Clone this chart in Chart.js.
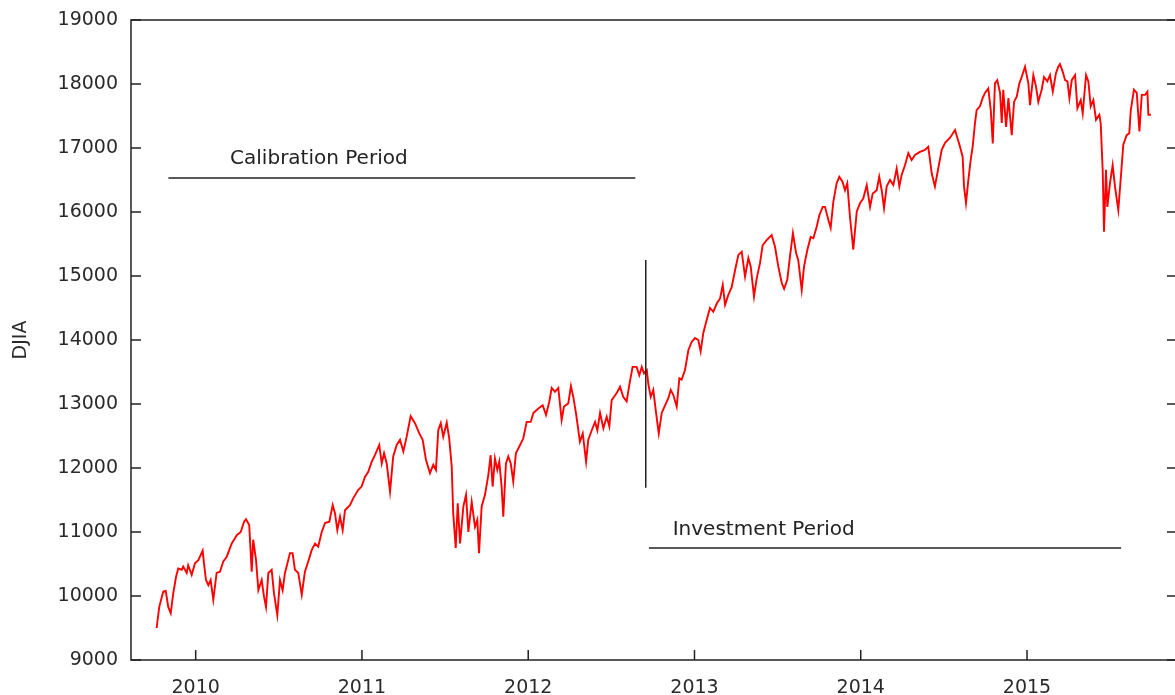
<!DOCTYPE html>
<html>
<head>
<meta charset="utf-8">
<script src="https://cdn.jsdelivr.net/npm/chart.js@4.4.1/dist/chart.umd.min.js"></script>
<style>
  html, body { margin: 0; padding: 0; background: #ffffff; overflow: hidden; }
  #wrap { width: 1190px; height: 695px; }
</style>
</head>
<body>
<div id="wrap"><canvas id="c" width="1190" height="695"></canvas></div>
<script>
// ---- data (x = fractional year on the chart's time axis, y = DJIA close) ----
const dates = [
  2009.765,2009.781,2009.805,2009.820,2009.835,2009.850,2009.865,2009.882,2009.895,2009.916,
  2009.925,2009.946,2009.955,2009.976,2009.996,2010.016,2010.042,2010.050,2010.062,2010.076,
  2010.090,2010.106,2010.126,2010.146,2010.166,2010.186,2010.217,2010.247,2010.271,2010.291,
  2010.303,2010.322,2010.337,2010.346,2010.363,2010.377,2010.397,2010.411,2010.423,2010.437,
  2010.457,2010.471,2010.491,2010.507,2010.523,2010.537,2010.547,2010.567,2010.583,2010.597,
  2010.617,2010.638,2010.657,2010.677,2010.698,2010.718,2010.737,2010.758,2010.778,2010.804,
  2010.824,2010.838,2010.852,2010.868,2010.884,2010.898,2010.928,2010.948,2010.978,2010.998,
  2011.018,2011.038,2011.059,2011.078,2011.104,
  2011.119,2011.133,2011.149,2011.169,2011.188,2011.209,2011.229,2011.249,2011.269,2011.293,
  2011.319,2011.345,2011.365,2011.385,2011.409,2011.429,2011.445,2011.459,2011.474,2011.489,
  2011.510,2011.525,2011.540,2011.549,2011.564,2011.576,2011.590,2011.610,2011.626,2011.640,
  2011.660,2011.680,2011.694,2011.704,2011.720,2011.740,2011.760,2011.774,2011.786,2011.800,
  2011.814,2011.826,2011.840,2011.850,2011.866,2011.880,2011.895,2011.910,2011.926,2011.951,
  2011.970,2011.991,
  2012.015,2012.031,2012.061,2012.087,2012.107,2012.127,2012.141,2012.161,2012.181,2012.201,
  2012.215,2012.241,2012.257,2012.271,2012.287,2012.311,2012.328,2012.348,2012.361,2012.382,
  2012.402,2012.416,2012.432,2012.452,2012.472,2012.488,2012.502,2012.532,2012.552,2012.572,
  2012.592,2012.608,2012.628,2012.652,2012.668,2012.683,2012.696,2012.713,2012.722,2012.737,
  2012.752,2012.769,2012.785,2012.803,2012.823,2012.843,2012.857,2012.873,2012.893,2012.909,
  2012.923,2012.943,2012.963,2012.983,
  2013.003,2013.023,2013.037,2013.053,2013.073,2013.093,2013.113,2013.134,2013.154,2013.170,
  2013.184,2013.203,2013.224,2013.244,2013.264,2013.284,2013.304,2013.324,2013.338,2013.358,
  2013.374,2013.394,2013.410,2013.434,2013.464,2013.484,2013.504,2013.525,2013.539,2013.558,
  2013.574,2013.592,2013.611,2013.624,2013.645,2013.659,2013.679,2013.699,2013.715,2013.735,
  2013.751,2013.771,2013.785,2013.805,2013.819,2013.835,2013.855,2013.871,2013.891,2013.905,
  2013.919,2013.935,2013.955,2013.976,2013.996,
  2014.015,2014.036,2014.056,2014.072,2014.096,2014.111,2014.126,2014.140,2014.156,2014.176,
  2014.196,2014.216,2014.232,2014.246,2014.266,2014.286,2014.306,2014.326,2014.356,2014.386,
  2014.406,2014.427,2014.446,2014.466,2014.487,2014.507,2014.537,2014.567,2014.597,2014.613,
  2014.621,2014.633,2014.647,2014.661,2014.673,2014.687,2014.697,2014.717,2014.733,2014.747,
  2014.767,2014.782,2014.794,2014.807,2014.821,2014.838,2014.848,2014.857,2014.874,2014.888,
  2014.908,2014.922,2014.938,2014.954,2014.968,2014.988,
  2015.008,2015.018,2015.038,2015.054,2015.068,2015.088,2015.102,2015.122,2015.138,2015.155,
  2015.174,2015.188,2015.198,2015.215,2015.229,2015.243,2015.255,2015.269,2015.289,2015.303,
  2015.323,2015.335,2015.355,2015.369,2015.383,2015.399,2015.415,2015.435,2015.443,2015.455,
  2015.463,2015.475,2015.483,2015.499,2015.515,2015.529,2015.549,2015.563,2015.579,2015.599,
  2015.615,2015.624,2015.643,2015.660,2015.676,2015.690,2015.710,2015.724,2015.730,2015.745
];
const djia = [
  9500,9830,10070,10080,9830,9730,10040,10300,10430,10410,
  10460,10360,10480,10330,10510,10560,10710,10510,10250,10170,
  10250,9940,10360,10380,10540,10610,10820,10950,11000,11160,
  11200,11110,10380,10880,10560,10090,10250,9990,9830,10360,
  10410,10040,9700,10250,10090,10360,10460,10670,10670,10410,
  10360,10020,10380,10540,10720,10820,10770,11000,11140,11160,
  11420,11290,11030,11240,11030,11340,11420,11530,11660,11710,
  11860,11940,12100,12200,12360,
  12070,12230,12070,11630,12180,12360,12440,12260,12490,12810,
  12700,12540,12440,12130,11920,12050,11970,12590,12700,12490,
  12710,12460,12020,11290,10750,11450,10820,11400,11580,11000,
  11470,11080,11190,10670,11400,11580,11890,12200,11710,12150,
  11970,12100,11710,11240,12070,12180,12070,11790,12230,12360,
  12460,12720,
  12720,12860,12930,12980,12830,13040,13250,13190,13250,12750,
  12960,13010,13280,13110,12860,12410,12540,12100,12440,12590,
  12720,12590,12860,12620,12800,12650,13060,13170,13270,13110,
  13040,13300,13580,13580,13450,13580,13480,13530,13320,13110,
  13220,12860,12540,12860,12980,13090,13220,13140,12960,13400,
  13380,13530,13840,13970,
  14030,14000,13820,14110,14310,14500,14440,14570,14650,14860,
  14550,14700,14830,15090,15330,15380,14990,15280,15150,14680,
  14960,15200,15480,15560,15640,15460,15150,14890,14800,14940,
  15300,15670,15360,15250,14780,15150,15410,15610,15590,15770,
  15950,16080,16080,15880,15750,16160,16450,16550,16470,16340,
  16450,15930,15410,16010,16140,
  16210,16420,16080,16290,16340,16550,16340,16060,16400,16500,
  16420,16680,16400,16580,16730,16920,16810,16890,16940,16970,
  17020,16600,16400,16680,16970,17080,17160,17280,17020,16860,
  16400,16140,16500,16810,17020,17390,17590,17650,17780,17860,
  17930,17590,17070,18010,18060,17860,17390,17910,17330,17780,
  17200,17720,17800,18010,18110,18270,
  18010,17670,18140,17960,17720,17910,18110,18040,18140,17880,
  18170,18270,18310,18190,18060,18040,17780,18060,18140,17620,
  17750,17540,18140,18040,17650,17750,17440,17520,17390,16660,
  15690,16660,16080,16450,16730,16400,16030,16500,17050,17200,
  17230,17590,17910,17860,17260,17830,17830,17880,17520,17520
];
const xTickYears = [2010, 2011, 2012, 2013, 2014, 2015];
const yTickValues = [9000, 10000, 11000, 12000, 13000, 14000, 15000, 16000, 17000, 18000, 19000];
const yAxisTitle = 'DJIA';

// annotation marks in data coordinates
const calibLabel = { text: 'Calibration Period', x: 2010.207, y: 16830 };
const calibLine  = { x0: 2009.836, x1: 2012.644, y: 16530 };
const splitLine  = { x: 2012.707, y0: 15250, y1: 11690 };
const investLabel = { text: 'Investment Period', x: 2012.869, y: 11030 };
const investLine  = { x0: 2012.726, x1: 2015.566, y: 10750 };

const FONT = '"DejaVu Sans", Verdana, sans-serif';
const INK = '#222222';

const framePlugin = {
  id: 'framePlugin',
  afterDraw(chart) {
    const { ctx, chartArea: { left, right, top, bottom }, scales: { x, y } } = chart;
    ctx.save();
    ctx.strokeStyle = INK;
    ctx.lineWidth = 1.5;
    ctx.strokeRect(left, top, right - left, bottom - top);
    const seg = (a, b, c, d) => { ctx.beginPath(); ctx.moveTo(a, b); ctx.lineTo(c, d); ctx.stroke(); };
    yTickValues.forEach(v => {
      const py = y.getPixelForValue(v);
      seg(left, py, left + 10, py);
      seg(right - 10, py, right, py);
    });
    xTickYears.forEach(v => {
      const px = x.getPixelForValue(v);
      seg(px, bottom, px, bottom - 10);
    });
    // annotations
    seg(x.getPixelForValue(calibLine.x0), y.getPixelForValue(calibLine.y),
        x.getPixelForValue(calibLine.x1), y.getPixelForValue(calibLine.y));
    seg(x.getPixelForValue(splitLine.x), y.getPixelForValue(splitLine.y0),
        x.getPixelForValue(splitLine.x), y.getPixelForValue(splitLine.y1));
    seg(x.getPixelForValue(investLine.x0), y.getPixelForValue(investLine.y),
        x.getPixelForValue(investLine.x1), y.getPixelForValue(investLine.y));
    ctx.fillStyle = INK;
    ctx.font = '20px ' + FONT;
    ctx.textAlign = 'left';
    ctx.textBaseline = 'middle';
    ctx.fillText(calibLabel.text, x.getPixelForValue(calibLabel.x), y.getPixelForValue(calibLabel.y));
    ctx.fillText(investLabel.text, x.getPixelForValue(investLabel.x), y.getPixelForValue(investLabel.y));
    ctx.restore();
  }
};

new Chart(document.getElementById('c'), {
  type: 'line',
  data: {
    datasets: [{
      label: 'DJIA',
      data: dates.map((d, i) => ({ x: d, y: djia[i] })),
      borderColor: '#ff0000',
      borderWidth: 1.9,
      pointRadius: 0,
      tension: 0,
      fill: false
    }]
  },
  options: {
    responsive: false,
    devicePixelRatio: 1,
    animation: false,
    layout: { padding: { top: 20, right: 13, left: 0, bottom: 0 } },
    plugins: { legend: { display: false }, tooltip: { enabled: false } },
    scales: {
      x: {
        type: 'linear',
        min: 2009.611,
        max: 2015.902,
        afterBuildTicks: s => { s.ticks = xTickYears.map(v => ({ value: v })); },
        afterFit: s => { s.height = 35; },
        grid: { display: false },
        border: { display: false },
        ticks: {
          autoSkip: false, maxRotation: 0, padding: 8.6,
          color: '#2a2a2a', font: { family: FONT, size: 19 },
          callback: v => String(v)
        }
      },
      y: {
        type: 'linear',
        min: 9000,
        max: 19000,
        afterBuildTicks: s => { s.ticks = yTickValues.map(v => ({ value: v })); },
        afterFit: s => { s.width = 131; },
        grid: { display: false },
        border: { display: false },
        ticks: {
          padding: 5, color: '#2a2a2a', font: { family: FONT, size: 19 },
          callback: v => String(v)
        },
        title: {
          display: true, text: yAxisTitle, color: '#2a2a2a',
          font: { family: FONT, size: 19 }, padding: { top: 10, bottom: 0 }
        }
      }
    }
  },
  plugins: [framePlugin]
});
</script>
</body>
</html>
